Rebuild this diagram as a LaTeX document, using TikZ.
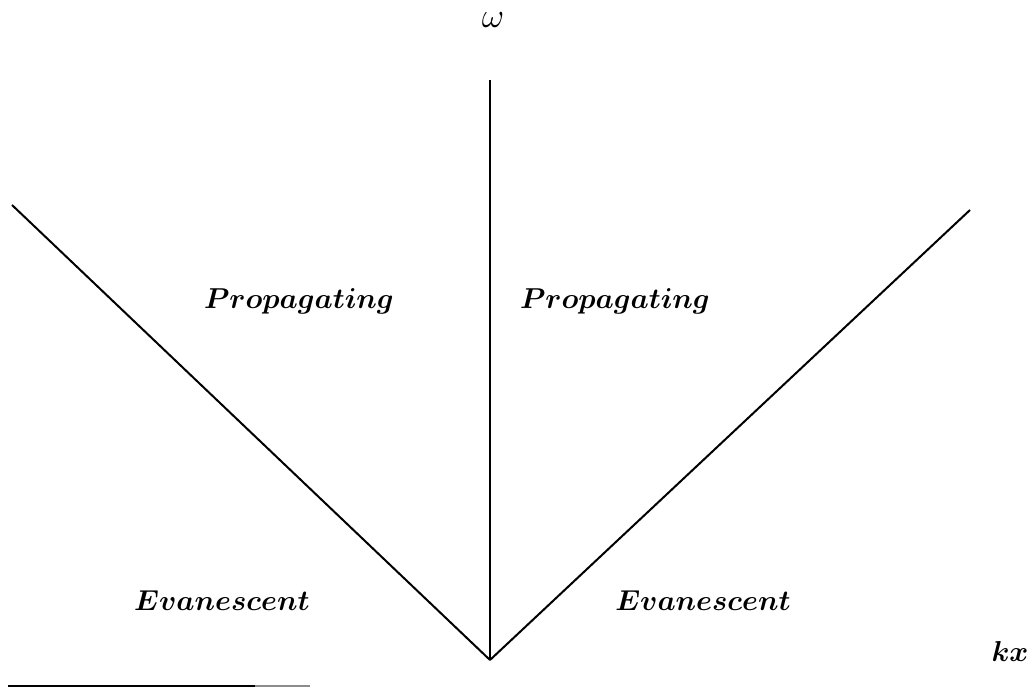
\documentclass[tikz,border=0pt]{standalone}
\usepackage{amsmath}
\begin{document}
\begin{tikzpicture}[x=0.5pt,y=-0.5pt,
  region/.style={inner sep=0pt, font=\fontsize{15.5}{18}\selectfont\boldmath},
  axislabel/.style={inner sep=0pt, font=\fontsize{19}{22}\selectfont},
  axisline/.style={line width=1pt, black}]
\useasboundingbox (0,0) rectangle (1033,688);
\coordinate (O) at (490,660);
\coordinate (T) at (490,80);
\coordinate (L) at (12,205);
\coordinate (R) at (970,210);
\coordinate (B1) at (8,686);
\coordinate (B2) at (255,686);
\coordinate (B3) at (310,686);
\draw[axisline] (T) -- (O);
\draw[axisline] (L) -- (O);
\draw[axisline] (O) -- (R);
\draw[axisline] (B1) -- (B2);
\draw[line width=1pt, black!45] (B2) -- (B3);
\node[axislabel] (w) at (493,20) {$\omega$};
\node[region] (pl) at (299,301) {$Propagating$};
\node[region] (pr) at (615,301) {$Propagating$};
\node[region] (el) at (222,601) {$Evanescent$};
\node[region] (er) at (703,601) {$Evanescent$};
\node[region] (kx) at (1010,652) {$kx$};
\end{tikzpicture}
\end{document}
